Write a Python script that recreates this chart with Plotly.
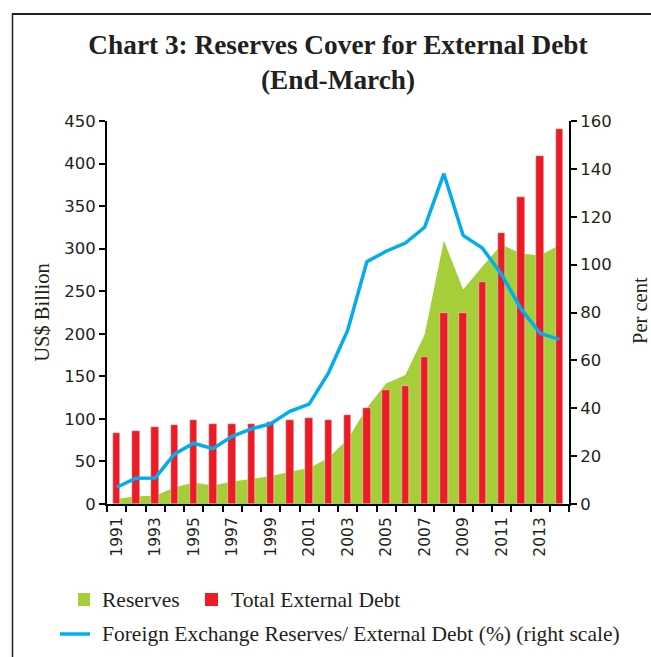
import plotly.graph_objects as go

# End-March data, 1991-2014
years = list(range(1991, 2015))
reserves = [5.8, 9.2, 9.8, 19.3, 25.2, 21.7, 26.4, 29.4, 32.5, 38.0, 42.3, 54.1,
            76.1, 113.0, 141.5, 151.6, 199.2, 309.7, 252.0, 279.1, 304.8, 294.4,
            292.0, 304.2]
external_debt = [83.8, 85.3, 90.0, 92.7, 99.0, 93.7, 93.5, 93.5, 96.9, 98.3, 101.3, 98.8,
                 104.9, 112.6, 134.0, 139.1, 172.4, 224.4, 224.5, 260.9, 317.9, 360.8,
                 409.4, 440.6]
reserves_to_debt = [7.0, 10.8, 10.9, 20.8, 25.4, 23.1, 28.3, 31.4, 33.5, 38.7, 41.7, 54.7,
                    72.5, 101.2, 105.6, 109.0, 115.6, 138.0, 112.2, 106.9, 95.9, 81.6,
                    71.3, 68.8]
year_ticks = [y for y in years if y % 2 == 1]

GREEN = "#a6ce39"
RED = "#ed1c24"
BLUE = "#00aeef"
INK = "#231f20"
SERIF = "Liberation Serif"
SANS = "DejaVu Sans"

W, H = 651, 657
L, R, T, B = 107, 82, 121, 153
pw, ph = W - L - R, H - T - B


def px(x):
    return (x - L) / pw


def py(y):
    return (H - B - y) / ph


fig = go.Figure()
# reserves area on the base plane
fig.add_trace(go.Scatter(x=years, y=reserves, mode="none", fill="tozeroy",
                         fillcolor=GREEN, name="Reserves", showlegend=False))
# debt bars on an overlaid plane with the same US$ scale, so they sit above the area
fig.add_trace(go.Bar(x=years, y=external_debt, marker_color=RED, width=0.38,
                     yaxis="y2", name="Total External Debt", showlegend=False))
# ratio line on the right-hand per-cent scale
fig.add_trace(go.Scatter(x=years, y=reserves_to_debt, yaxis="y3", mode="lines",
                         line=dict(color=BLUE, width=3.5),
                         name="Foreign Exchange Reserves/ External Debt (%) (right scale)",
                         showlegend=False))

axis_common = dict(showline=True, linecolor="black", linewidth=2, ticks="outside",
                   ticklen=6, tickwidth=1.5, tickcolor="black", showgrid=False,
                   zeroline=False, tickfont=dict(family=SANS, size=16.5, color=INK))

fig.update_layout(
    width=W, height=H,
    margin=dict(l=L, r=R, t=T, b=B),
    plot_bgcolor="white", paper_bgcolor="white",
    bargap=0,
    title=dict(text="<b>Chart 3: Reserves Cover for External Debt<br>(End-March)</b>",
               x=0.5, xref="paper", xanchor="center",
               y=(H - 54) / H, yref="container", yanchor="top",
               font=dict(family=SERIF, size=27.3, color=INK)),
    xaxis=dict(range=[1990.5, 2014.5], tickmode="array", tickvals=year_ticks,
               ticktext=[str(y) for y in year_ticks], tickangle=-90,
               showline=True, linecolor="black", linewidth=2, ticks="",
               ticklabelstandoff=5,
               showgrid=False, zeroline=False,
               tickfont=dict(family=SANS, size=15.5, color=INK),
               minor=dict(ticks="outside", ticklen=6, tickwidth=1.5, tickcolor="black",
                          tick0=0.5, dtick=1, showgrid=False)),
    yaxis=dict(range=[0, 450], dtick=50,
               title=dict(text="US$ Billion", standoff=9,
                          font=dict(family=SERIF, size=20.5, color=INK)),
               **axis_common),
    yaxis2=dict(range=[0, 450], overlaying="y", visible=False),
    yaxis3=dict(range=[0, 160], dtick=20, overlaying="y", side="right",
                **axis_common),
)

# right-hand axis title
fig.add_annotation(text="Per cent", xref="paper", yref="paper", x=px(640), y=py(311),
                   xanchor="center", yanchor="middle", textangle=-90, showarrow=False,
                   font=dict(family=SERIF, size=20.5, color=INK))

# open frame around the chart: top and left edges
fig.add_shape(type="line", xref="paper", yref="paper", x0=px(12), x1=px(W),
              y0=py(14), y1=py(14), line=dict(color=INK, width=2), layer="above")
fig.add_shape(type="line", xref="paper", yref="paper", x0=px(12.5), x1=px(12.5),
              y0=py(13), y1=py(H), line=dict(color=INK, width=1.5), layer="above")

# legend
fig.add_shape(type="rect", xref="paper", yref="paper", x0=px(78), x1=px(90),
              y0=py(606), y1=py(593), fillcolor=GREEN, line=dict(width=0))
fig.add_shape(type="rect", xref="paper", yref="paper", x0=px(205), x1=px(218),
              y0=py(606), y1=py(593), fillcolor=RED, line=dict(width=0))
fig.add_shape(type="line", xref="paper", yref="paper", x0=px(60), x1=px(90),
              y0=py(634), y1=py(634), line=dict(color=BLUE, width=3.5))
legend_font = dict(family=SERIF, size=21.5, color=INK)
for text, xl, yc in [("Reserves", 100, 600), ("Total External Debt", 229, 600),
                     ("Foreign Exchange Reserves/ External Debt (%) (right scale)", 100, 634)]:
    fig.add_annotation(text=text, xref="paper", yref="paper", x=px(xl), y=py(yc),
                       xanchor="left", yanchor="middle", showarrow=False, font=legend_font)

fig.write_html("out.html")
